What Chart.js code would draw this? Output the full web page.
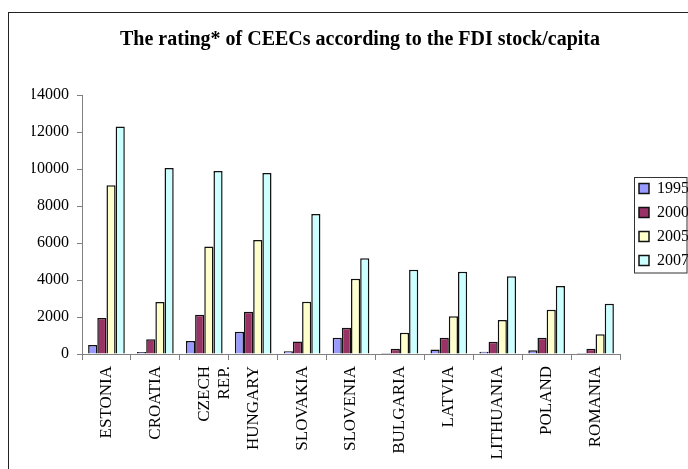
<!DOCTYPE html>
<html>
<head>
<meta charset="utf-8">
<script src="https://cdn.jsdelivr.net/npm/chart.js@4.4.1/dist/chart.umd.min.js"></script>
<style>
  html, body { margin: 0; padding: 0; background: #ffffff; }
  canvas { display: block; }
</style>
</head>
<body>
<canvas id="chartFdi" width="688" height="469"></canvas>
<script>
// countries, ordered by FDI stock per capita in 2007
var countries = ["ESTONIA", "CROATIA", ["CZECH", "REP."], "HUNGARY", "SLOVAKIA", "SLOVENIA",
  "BULGARIA", "LATVIA", "LITHUANIA", "POLAND", "ROMANIA"];

var years = ["1995", "2000", "2005", "2007"];

var fdi1995 = [480, 110, 700, 1200, 150, 880, 50, 240, 125, 200, 50];
var fdi2000 = [1950, 800, 2120, 2290, 670, 1420, 290, 880, 665, 880, 290];
var fdi2005 = [9120, 2810, 5815, 6160, 2830, 4070, 1150, 2040, 1840, 2395, 1065];
var fdi2007 = [12300, 10050, 9890, 9780, 7570, 5170, 4560, 4450, 4200, 3675, 2720];

var yTicks = [0, 2000, 4000, 6000, 8000, 10000, 12000, 14000];

var colors = ["#9999FF", "#993366", "#FFFFCC", "#CCFFFF"];

var serif = "'Liberation Serif', 'Times New Roman', serif";

// outer frame of the chart object + box round the legend
var framePlugin = {
  id: "frame",
  afterLayout: function (chart) {
    // push legend a bit away from plot area
    chart.legend.left += 11;
    chart.legend.right += 11;
  },
  beforeDraw: function (chart) {
    var ctx = chart.ctx;
    ctx.save();
    ctx.fillStyle = "#ffffff";
    ctx.fillRect(0, 0, chart.width, chart.height);
    ctx.strokeStyle = "#222222";
    ctx.lineWidth = 1;
    ctx.strokeRect(8.5, 12.5, 1000, 1000);
    ctx.restore();
  },
  afterDraw: function (chart) {
    var boxes = chart.legend.legendHitBoxes;
    if (!boxes || !boxes.length) return;
    var first = boxes[0];
    var last = boxes[boxes.length - 1];
    var ctx = chart.ctx;
    ctx.save();
    ctx.strokeStyle = "#333333";
    ctx.lineWidth = 1;
    var x = Math.round(first.left - 5) + 0.5;
    var y = Math.round(first.top - 4) + 0.5;
    ctx.strokeRect(x, y, 687 - x, Math.round(last.top + last.height + 4) - y);
    ctx.restore();
  }
};

var seriesData = [fdi1995, fdi2000, fdi2005, fdi2007];

var chartFdi = new Chart(document.getElementById("chartFdi"), {
  type: "bar",
  data: {
    labels: countries,
    datasets: years.map(function (yr, i) {
      return {
        label: yr,
        data: seriesData[i],
        backgroundColor: colors[i],
        borderColor: "#111111",
        borderWidth: 1.5,
        categoryPercentage: 0.75,
        barPercentage: 1.0
      };
    })
  },
  options: {
    responsive: false,
    animation: false,
    devicePixelRatio: 1,
    layout: {
      padding: { left: 32, right: 0, top: 12, bottom: 0 }
    },
    plugins: {
      title: {
        display: true,
        text: "The rating* of CEECs according to the FDI stock/capita",
        color: "#000000",
        font: { family: serif, size: 20, weight: "bold" },
        padding: { top: 16, bottom: 43 }
      },
      legend: {
        display: true,
        position: "right",
        fullSize: false,
        labels: {
          color: "#000000",
          font: { family: serif, size: 16 },
          boxWidth: 10,
          boxHeight: 10,
          padding: 8
        }
      },
      tooltip: { enabled: false }
    },
    scales: {
      x: {
        grid: {
          display: true,
          drawOnChartArea: false,
          drawTicks: true,
          tickLength: 6,
          color: "#808080",
          offset: true
        },
        border: { display: true, color: "#808080", width: 1 },
        ticks: {
          color: "#000000",
          font: { family: serif, size: 17 },
          maxRotation: 90,
          minRotation: 90,
          autoSkip: false,
          padding: 6
        },
        afterFit: function (scale) {
          scale.height = 115;
        }
      },
      y: {
        min: 0,
        max: 14000,
        afterBuildTicks: function (scale) {
          scale.ticks = yTicks.map(function (v) { return { value: v }; });
        },
        grid: {
          display: true,
          drawOnChartArea: false,
          drawTicks: true,
          tickLength: 5,
          color: "#808080"
        },
        border: { display: true, color: "#808080", width: 1 },
        ticks: {
          color: "#000000",
          font: { family: serif, size: 16 },
          padding: 8,
          callback: function (v) { return String(v); }
        },
        afterFit: function (scale) {
          scale.width = 50;
        }
      }
    }
  },
  plugins: [framePlugin]
});
</script>
</body>
</html>
